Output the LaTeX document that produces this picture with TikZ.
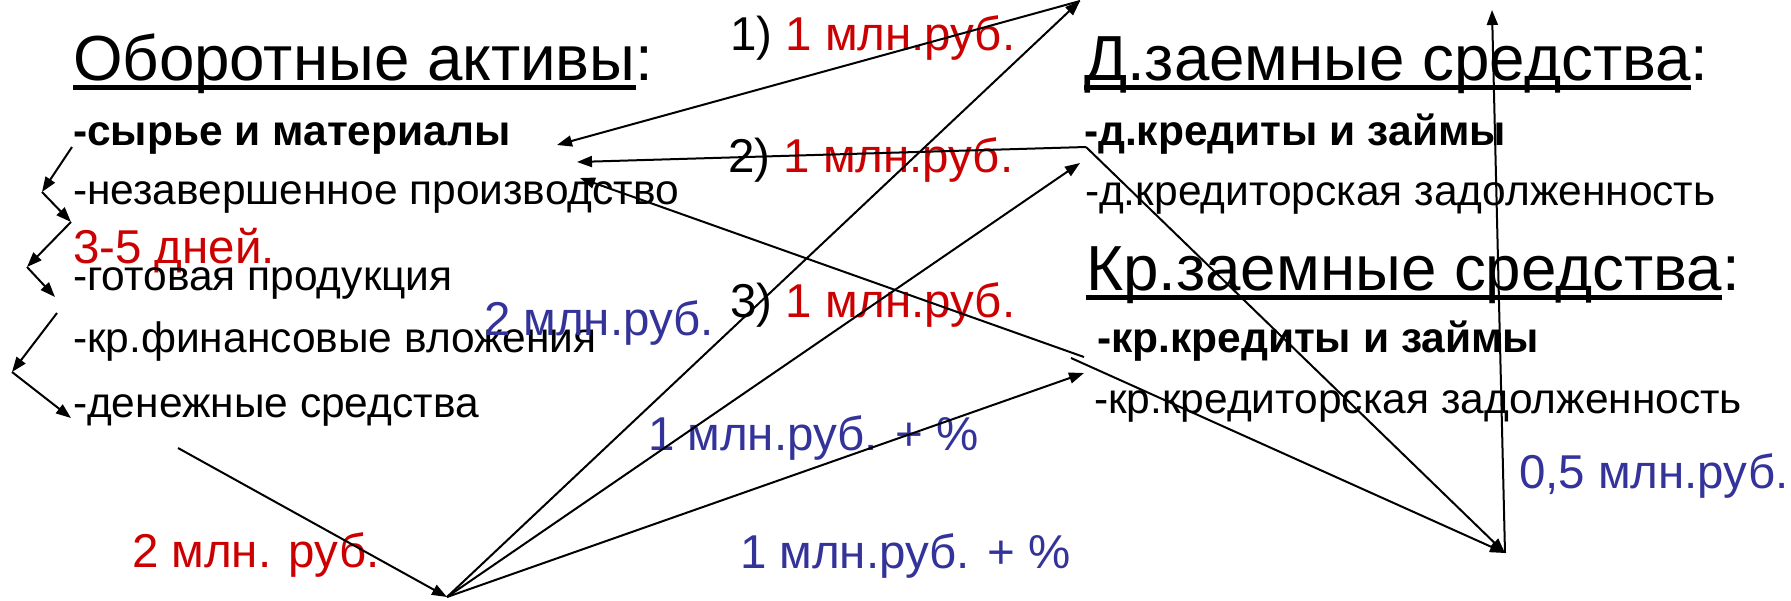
\documentclass[tikz,border=0pt]{standalone}
\usepackage{fontspec}
\setmainfont{Liberation Sans}
\usetikzlibrary{arrows.meta}
\definecolor{myred}{RGB}{204,0,0}
\definecolor{myblue}{RGB}{51,51,153}
\begin{document}
\begin{tikzpicture}[x=1pt,y=-1pt,
  every node/.style={inner sep=0pt, outer sep=0pt, anchor=base west},
  ttl/.style={font=\fontsize{63.7}{76}\selectfont},
  itm/.style={font=\fontsize{42.5}{50}\selectfont},
  itmb/.style={font=\fontsize{42.5}{50}\selectfont\bfseries},
  lbl/.style={font=\fontsize{47.5}{57}\selectfont},
  conn/.style={line width=2pt, -{Triangle[length=15pt,width=11pt]}},
  ln/.style={line width=2pt},
  uline/.style={line width=5pt}
]
\useasboundingbox (0,0) rectangle (1791,600);
\fill[white] (0,0) rectangle (1791,600);

% left column
\node[ttl] (oa) at (73,80) {Оборотные активы};
\node[ttl] (oac) at (oa.base east) {:};
\draw[uline] ([yshift=-7.5pt]oa.base west) -- ([yshift=-7.5pt]oa.base east);
\node[itmb] (i1) at (73,145) {-сырье и материалы};
\node[itm] (i2) at (73,204) {-незавершенное производство};
\node[lbl, text=myred] (d35) at (73,263) {3-5 дней.};
\node[itm] (i3) at (73,290) {-готовая продукция};
\node[itm] (i4) at (73,352) {-кр.финансовые вложения};
\node[itm] (i5) at (73,417) {-денежные средства};

% right column
\node[ttl] (dz) at (1084,80) {Д.заемные средства};
\node[ttl] (dzc) at (dz.base east) {:};
\draw[uline] ([yshift=-7.5pt]dz.base west) -- ([yshift=-7.5pt]dz.base east);
\node[itmb] (r1) at (1084,145) {-д.кредиты и займы};
\node[itm] (r2) at (1085,205) {-д.кредиторская задолженность};
\node[ttl] (kz) at (1086,290) {Кр.заемные средства};
\node[ttl] (kzc) at (kz.base east) {:};
\draw[uline] ([yshift=-7.5pt]kz.base west) -- ([yshift=-7.5pt]kz.base east);
\node[itmb] (r3) at (1097,352) {-кр.кредиты и займы};
\node[itm] (r4) at (1094,413) {-кр.кредиторская задолженность};

% labels
\node[lbl] (n1) at (730,50) {1) \textcolor{myred}{1 млн.руб.}};
\node[lbl] (n2) at (728,172) {2) \textcolor{myred}{1 млн.руб.}};
\node[lbl] (n3) at (730,317) {3) \textcolor{myred}{1 млн.руб.}};
\node[lbl, text=myblue] (b2) at (484,335) {2 млн.руб.};
\node[lbl, text=myblue] (b1a) at (648,450) {1 млн.руб. + \%};
\node[lbl, text=myblue] (b1b) at (740,568) {1 млн.руб. + \%};
\node[lbl, text=myred] (rm2) at (132,567) {2 млн. руб.};
\node[lbl, text=myblue] (b05) at (1519,488) {0,5 млн.руб.};

% connection points
\coordinate (T) at (1080,1);
\coordinate (S1) at (557,145);
\coordinate (DK) at (1086,147);
\coordinate (S2) at (577,162);
\coordinate (S3) at (580,178);
\coordinate (KK) at (1084,357);
\coordinate (KKa) at (1071,358);
\coordinate (KKb) at (1084,373);
\coordinate (DKZ) at (1080,163);
\coordinate (R) at (1505,553);
\coordinate (RT) at (1492,10);
\coordinate (M) at (178,448);
\coordinate (H) at (447,597);
\coordinate (Z0) at (72,147);
\coordinate (Z1) at (42,192);
\coordinate (Z2) at (71,222);
\coordinate (Z4) at (27,267);
\coordinate (Z5) at (55,297);
\coordinate (Z6) at (57,313);
\coordinate (Z7) at (12,372);
\coordinate (Z8) at (71,418);

% zigzag arrows
\draw[conn] (Z0) -- (Z1);
\draw[conn] (Z1) -- (Z2);
\draw[conn] (Z2) -- (Z4);
\draw[conn] (Z4) -- (Z5);
\draw[conn] (Z6) -- (Z7);
\draw[conn] (Z7) -- (Z8);

% flows
\draw[conn] (T) -- (S1);
\draw[conn] (DK) -- (S2);
\draw[conn] (DK) -- (R);
\draw[conn] (KK) -- (S3);
\draw[conn] (KKa) -- (R);
\draw[conn] (R) -- (RT);
\draw[conn] (M) -- (H);
\draw[conn] (H) -- (T);
\draw[conn] (H) -- (DKZ);
\draw[conn] (H) -- (KKb);
\end{tikzpicture}
\end{document}
